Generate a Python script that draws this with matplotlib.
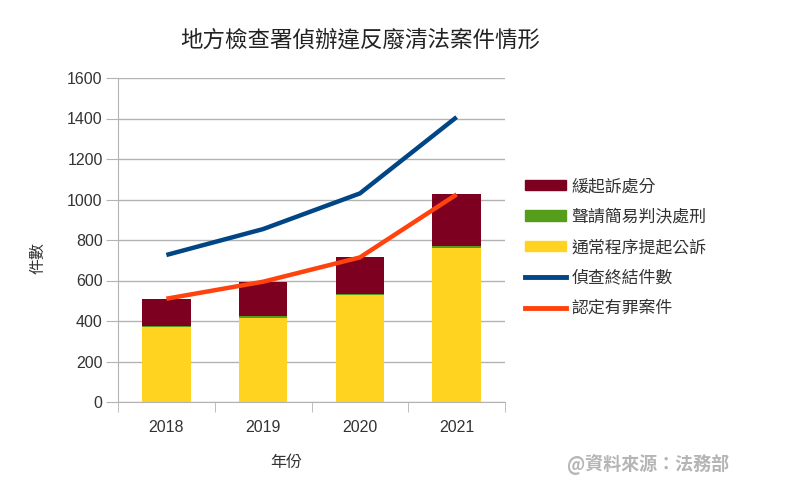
import matplotlib
matplotlib.use("Agg")
import matplotlib.pyplot as plt
from matplotlib.patches import Patch
from matplotlib.lines import Line2D
import numpy as np

plt.rcParams['font.family'] = ['Noto Sans CJK TC', 'DejaVu Sans']

years = ['2018', '2019', '2020', '2021']
public_prosecution = [370, 413, 528, 759]   # 通常程序提起公訴
summary_judgment = [5, 12, 5, 11]           # 聲請簡易判決處刑
deferred = [132, 166, 181, 255]             # 緩起訴處分
concluded = [726, 854, 1030, 1407]          # 偵查終結件數
convicted = [510, 594, 714, 1025]           # 認定有罪案件

title = '地方檢查署偵辦違反廢清法案件情形'

fig = plt.figure(figsize=(7.92, 5.03), dpi=100)
ax = fig.add_axes([118/792, 1-402/503, (505-118)/792, (402-78)/503])

x = np.arange(len(years))
w = 0.5
c_yellow = '#ffd320'
c_green = '#579d1c'
c_red = '#7e0021'
c_blue = '#004586'
c_orange = '#ff420e'

pp = np.array(public_prosecution)
sj = np.array(summary_judgment)
df = np.array(deferred)
ax.bar(x, pp, w, color=c_yellow, zorder=2)
ax.bar(x, sj, w, bottom=pp, color=c_green, zorder=2)
ax.bar(x, df, w, bottom=pp+sj, color=c_red, zorder=2)
ax.plot(x, concluded, color=c_blue, lw=3.2, zorder=3, solid_capstyle='butt')
ax.plot(x, convicted, color=c_orange, lw=3.2, zorder=3, solid_capstyle='butt')

ax.set_xlim(-0.5, 3.5)
ax.set_ylim(0, 1600)
ax.set_yticks(range(0, 1601, 200))
ax.yaxis.grid(True, color='#b3b3b3', lw=1, zorder=0)
ax.set_axisbelow(True)
ax.set_xticks(x)
ax.set_xticklabels(years)
for lab in ax.get_xticklabels() + ax.get_yticklabels():
    lab.set_fontfamily('Liberation Sans')
    lab.set_fontsize(11.5)
    lab.set_color('#333333')
ax.tick_params(axis='x', length=0, pad=13)
ax.tick_params(axis='y', length=9, color='#b3b3b3', pad=2)
ax.set_xticks(np.arange(-0.5, 4, 1), minor=True)
ax.tick_params(axis='x', which='minor', length=7, color='#b3b3b3')
for s in ['top', 'right']:
    ax.spines[s].set_visible(False)
for s in ['left', 'bottom']:
    ax.spines[s].set_color('#b3b3b3')

fig.text(38/792, 1-258/503, '件數', rotation=90, ha='center', va='center', fontsize=11.5, color='#333333')
fig.text(286/792, 1-463/503, '年份', ha='center', va='center', fontsize=11.5, color='#333333')
fig.text(360/792, 1-40/503, title, ha='center', va='center', fontsize=16.2, color='#222222')

handles = [Patch(color=c_red), Patch(color=c_green), Patch(color=c_yellow),
           Line2D([], [], color=c_blue, lw=3.5), Line2D([], [], color=c_orange, lw=3.5)]
labels = ['緩起訴處分', '聲請簡易判決處刑', '通常程序提起公訴', '偵查終結件數', '認定有罪案件']
leg = fig.legend(handles, labels, loc='center left', bbox_to_anchor=(525/792, 1-247/503),
           frameon=False, fontsize=12.2, handlelength=2.4, handleheight=0.55,
           labelspacing=0.74, handletextpad=0.35, borderpad=0, borderaxespad=0)
for t in leg.get_texts():
    t.set_color('#333333')

fig.text(648/792, 1-464/503, '@資料來源：法務部', ha='center', va='center',
         fontsize=13, color='#a8a8a8', alpha=0.85, fontweight='bold')

fig.savefig('out.png', dpi=100)
